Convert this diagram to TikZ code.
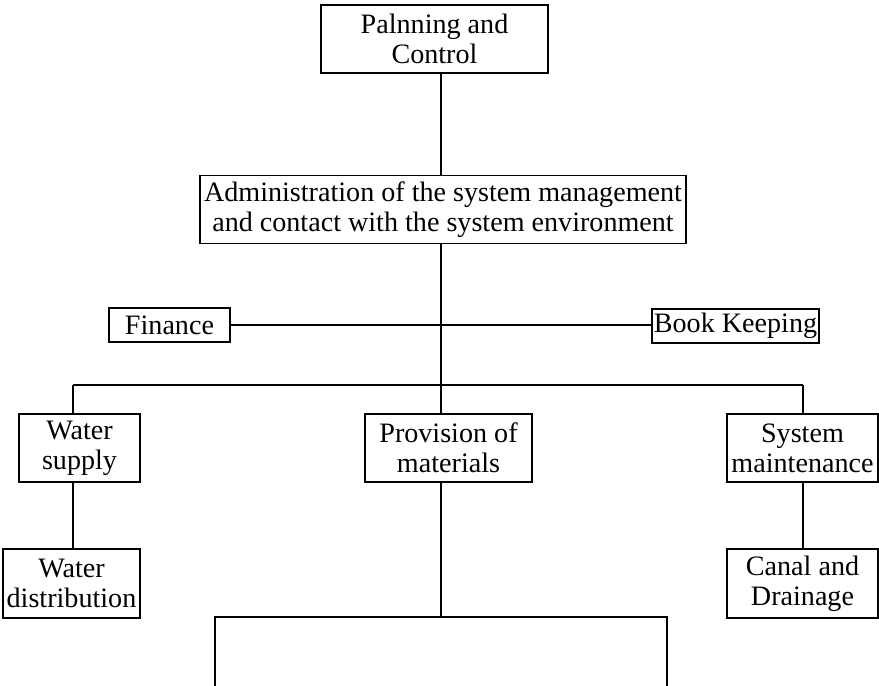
\documentclass[tikz,border=0pt]{standalone}
\usepackage{fontspec}
\setmainfont{Liberation Serif}
\usetikzlibrary{positioning, calc}
\tikzset{
  orgbox/.style={
    draw, line width=0.9pt,
    inner sep=0pt,
    align=center,
    minimum width=#1,
    minimum height=1.36cm,
    font=\fontsize{16}{17.2}\selectfont
  },
  orgbox/.default=3cm,
  flatbox/.style={
    orgbox=#1,
    minimum height=0.68cm
  },
  link/.style={
    line width=0.9pt,
    draw=black
  }
}

\begin{document}
\begin{tikzpicture}
  \useasboundingbox (0,0) rectangle (17.58,-13.72);

  \node[orgbox=4.54cm] (plan) at (8.69,-0.78) {Palnning and\\Control};
  \node[orgbox=9.72cm] (adm) at (8.86,-4.19) {Administration of the system management\\and contact with the system environment};
  \node[flatbox=2.42cm] (fin) at (3.39,-6.5) {Finance};
  \node[flatbox=3.34cm] (book) at (14.71,-6.52) {Book Keeping};
  \node[orgbox=2.42cm] (ws) at (1.59,-8.96) {Water\\supply};
  \node[orgbox=3.34cm] (prov) at (8.97,-8.96) {Provision of\\materials};
  \node[orgbox=3.02cm] (sm) at (16.05,-8.96) {System\\maintenance};
  \node[orgbox=2.74cm, minimum height=1.38cm] (wd) at (1.43,-11.67) {Water\\distribution};
  \node[orgbox=3.02cm, minimum height=1.38cm] (cd) at (16.05,-11.67) {Canal and\\Drainage};

  \coordinate (tx) at (8.82,0);
  \coordinate (bl) at (1.46,-7.7);
  \coordinate (br) at (16.06,-7.7);
  \coordinate (fy) at (0,-6.5);
  \coordinate (pb) at (8.82,-12.34);
  \coordinate (pl) at (4.3,-12.34);
  \coordinate (pr) at (13.34,-12.34);
  \coordinate (el) at (4.3,-13.72);
  \coordinate (er) at (13.34,-13.72);

  \draw[link] (plan.south -| tx) -- (adm.north -| tx);
  \draw[link] (adm.south -| tx) -- (prov.north -| tx);
  \draw[link] (fin.east) -- (book.west |- fy);
  \draw[link] (bl) -- (br);
  \draw[link] (bl) -- (ws.north -| bl);
  \draw[link] (br) -- (sm.north -| br);
  \draw[link] (ws.south -| bl) -- (wd.north -| bl);
  \draw[link] (sm.south -| br) -- (cd.north -| br);
  \draw[link] (prov.south -| tx) -- (pb);
  \draw[link] (el) -- (pl) -- (pr) -- (er);
\end{tikzpicture}
\end{document}
